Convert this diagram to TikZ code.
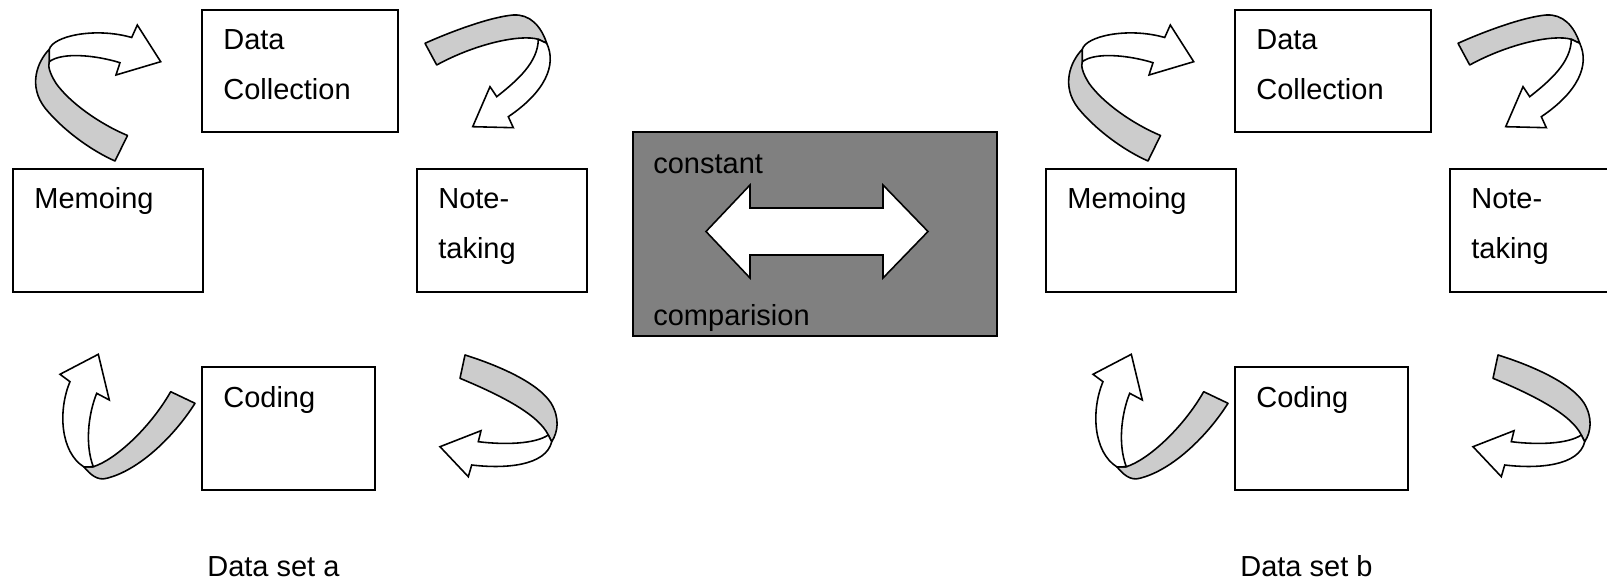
\documentclass[tikz,border=0pt]{standalone}
\usepackage{fontspec}
\setmainfont{Liberation Sans}
\definecolor{ribbongray}{RGB}{204,204,204}
\definecolor{boardgray}{RGB}{128,128,128}
\newlength{\pxunit}
\setlength{\pxunit}{0.2mm}

\tikzset{
  stagebox/.style={draw, line width=1.1pt, rectangle, inner sep=0pt, outer sep=0pt},
  boxtext/.style={anchor=base west, inner sep=0pt, font=\fontsize{16.5}{20}\selectfont},
  ribbonback/.style={draw, fill=ribbongray, line width=0.9pt, line join=round},
  ribbonfront/.style={draw, fill=white, line width=0.9pt},
}

\newcommand{\dataset}[3]{%kwargs xshift in px, name suffix, caption
  \begin{scope}[xshift=#1\pxunit]
    %the four stages
    \node[stagebox, minimum width=196\pxunit, minimum height=122\pxunit] (dc#2) at (300,71) {};
    \node[boxtext] (dctop#2) at (223,50) {Data};
    \node[boxtext] (dcbottom#2) at (223,100) {Collection};
    \node[stagebox, minimum width=190\pxunit, minimum height=123\pxunit] (memo#2) at (108,230.5) {};
    \node[boxtext] (memotext#2) at (34,209) {Memoing};
    \node[stagebox, minimum width=170\pxunit, minimum height=123\pxunit] (note#2) at (502,230.5) {};
    \node[boxtext] (notetop#2) at (438,209) {Note-};
    \node[boxtext] (notebottom#2) at (438,259) {taking};
    \node[stagebox, minimum width=173\pxunit, minimum height=123\pxunit] (code#2) at (288.5,428.5) {};
    \node[boxtext] (codetext#2) at (223,408) {Coding};
    \node[boxtext] (caption#2) at (207,576) {#3};
    %ribbon from memoing up to data collection
    \draw[ribbonback] (49.3,49.3) .. controls (37,62) and (28,86) .. (45,108)
      .. controls (62,129) and (90,150) .. (115,161) -- (127.5,135.5)
      .. controls (100,124) and (70,103) .. (56,83.3)
      .. controls (49,72) and (48,66) .. (49.3,61.7) -- cycle;
    \draw[ribbonfront] (49.3,49.3) .. controls (53,36) and (95,27) .. (131.7,37.5)
      -- (137.3,25) -- (160.7,61.7) -- (116,75) -- (120,62.7)
      .. controls (95,55) and (62,52) .. (49.3,61.7) -- cycle;
    %ribbon from data collection down to note-taking
    \draw[ribbonback] (425,43.3) .. controls (450,32) and (490,17) .. (513.3,15)
      .. controls (530,14) and (541,26) .. (546.7,43.3) -- (538.3,39.3)
      .. controls (520,34) and (475,44) .. (436.7,65) -- cycle;
    \draw[ribbonfront] (546.7,43.3) .. controls (557,65) and (545,92) .. (508.3,116.7)
      -- (513.3,127.7) -- (472.7,126.7) -- (490,86.7) -- (496.7,96.7)
      .. controls (518,80) and (538,62) .. (538.3,39.3) -- cycle;
    %ribbon from note-taking round to coding
    \draw[ribbonback] (465,355) .. controls (500,366) and (538,383) .. (551,403)
      .. controls (560,418) and (558,432) .. (551.7,441.7) -- (548.3,435)
      .. controls (538,414) and (500,395) .. (460,378.3) -- cycle;
    \draw[ribbonfront] (548.3,435) .. controls (535,444) and (505,445) .. (478.3,441.7)
      -- (481,430.7) -- (440,446.7) -- (468.3,476.7) -- (471.7,465)
      .. controls (505,469) and (546,466) .. (551.7,441.7) -- cycle;
    %ribbon from coding up to memoing
    \draw[ribbonback] (170.7,391.7) -- (195,403.3) .. controls (175,435) and (140,470) .. (106.7,478.3)
      .. controls (97,481) and (90,474) .. (84,467) -- (93.3,466.7)
      .. controls (115,460) and (150,428) .. (170.7,391.7) -- cycle;
    \draw[ribbonfront] (84,467) .. controls (60,452) and (58,410) .. (70,381.7)
      -- (60,374.3) -- (98.3,354.3) -- (109.3,400) -- (96.7,393.3)
      .. controls (88,415) and (85,445) .. (93.3,466.7) -- cycle;
  \end{scope}
}

\begin{document}
\begin{tikzpicture}[x=\pxunit, y=-\pxunit]
  \useasboundingbox (0,0) rectangle (1607,580);
  %left and right data sets
  \dataset{0}{a}{Data set a}
  \dataset{1033}{b}{Data set b}
  %constant comparison in the middle
  \node[stagebox, fill=boardgray, minimum width=364\pxunit, minimum height=204\pxunit] (board) at (815,234) {};
  \node[boxtext] (boardtop) at (653,174) {constant};
  \node[boxtext] (boardbottom) at (653,326) {comparision};
  \draw[line width=0.9pt, fill=white] (706,231.5) -- (750,185) -- (750,208) -- (883,208)
    -- (883,185) -- (928,231.5) -- (883,278) -- (883,255) -- (750,255) -- (750,278) -- cycle;
\end{tikzpicture}
\end{document}
